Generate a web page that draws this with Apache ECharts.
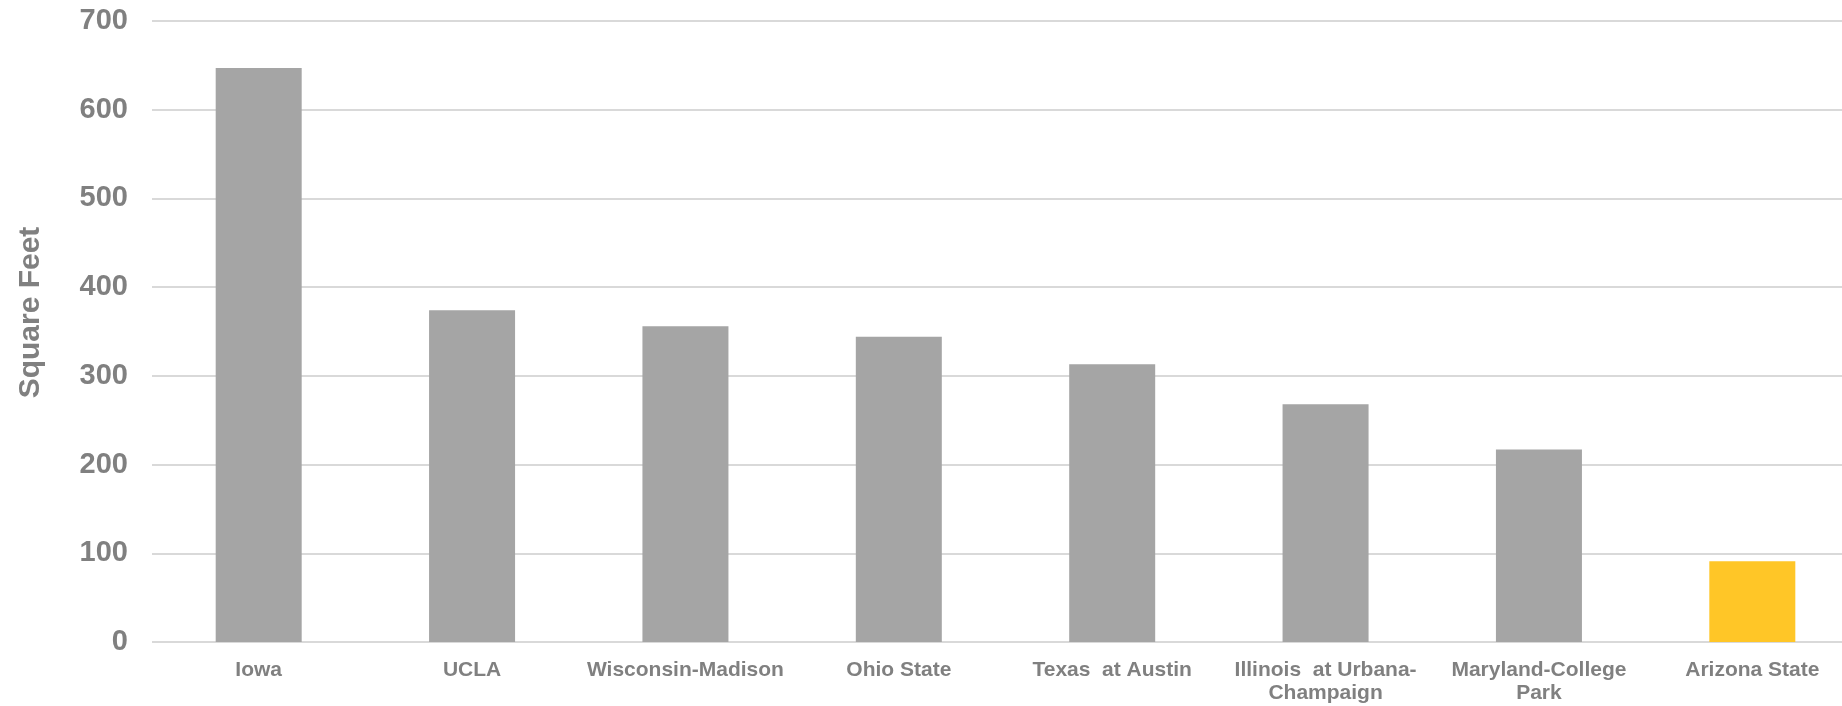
<!DOCTYPE html>
<html>
<head>
<meta charset="utf-8">
<script src="https://cdn.jsdelivr.net/npm/echarts@6/dist/echarts.min.js"></script>
<style>
  html, body { margin: 0; padding: 0; background: #ffffff; overflow: hidden; width: 1842px; height: 706px; }
  /* the plot area continues a little past the right edge of the page */
  #chart { width: 1859px; height: 706px; }
</style>
</head>
<body>
<div id="chart"></div>
<script>
// Campus space per student, by university
const categories = [
  'Iowa',
  'UCLA',
  'Wisconsin-Madison',
  'Ohio State',
  'Texas  at Austin',
  'Illinois  at Urbana-\nChampaign',
  'Maryland-College\nPark',
  'Arizona State'
];
const squareFeet = [647, 374, 356, 344, 313, 268, 217, 91];
const highlighted = 'Arizona State';
const yTicks = { min: 0, max: 700, interval: 100 };
const axisTitle = 'Square Feet';

const grayBar = '#A5A5A5';
const goldBar = '#FFC627';
const labelGray = '#808080';
const gridGray = '#D9D9D9';
const font = '"Liberation Sans", Arial, sans-serif';

const chart = echarts.init(document.getElementById('chart'), null, { renderer: 'canvas' });

chart.setOption({
  animation: false,
  backgroundColor: '#ffffff',
  grid: { left: 152, top: 21, right: 0, bottom: 64, containLabel: false },
  xAxis: {
    type: 'category',
    data: categories,
    axisLine: { show: false },
    axisTick: { show: false },
    axisLabel: {
      interval: 0,
      margin: 17,
      color: labelGray,
      fontFamily: font,
      fontWeight: 'bold',
      fontSize: 21,
      lineHeight: 23
    }
  },
  yAxis: {
    type: 'value',
    min: yTicks.min,
    max: yTicks.max,
    interval: yTicks.interval,
    name: axisTitle,
    nameLocation: 'middle',
    nameGap: 106,
    nameRotate: 90,
    nameTextStyle: {
      color: labelGray,
      fontFamily: font,
      fontWeight: 'bold',
      fontSize: 30,
      padding: [0, 0, 0, 38]
    },
    axisLine: { show: false },
    axisTick: { show: false },
    axisLabel: {
      margin: 24,
      color: labelGray,
      fontFamily: font,
      fontWeight: 'bold',
      fontSize: 29
    },
    splitLine: { lineStyle: { color: gridGray, width: 2 } }
  },
  series: [{
    type: 'bar',
    barWidth: 86,
    data: squareFeet.map((v, i) => ({
      value: v,
      itemStyle: { color: categories[i] === highlighted ? goldBar : grayBar }
    }))
  }]
});
</script>
</body>
</html>
